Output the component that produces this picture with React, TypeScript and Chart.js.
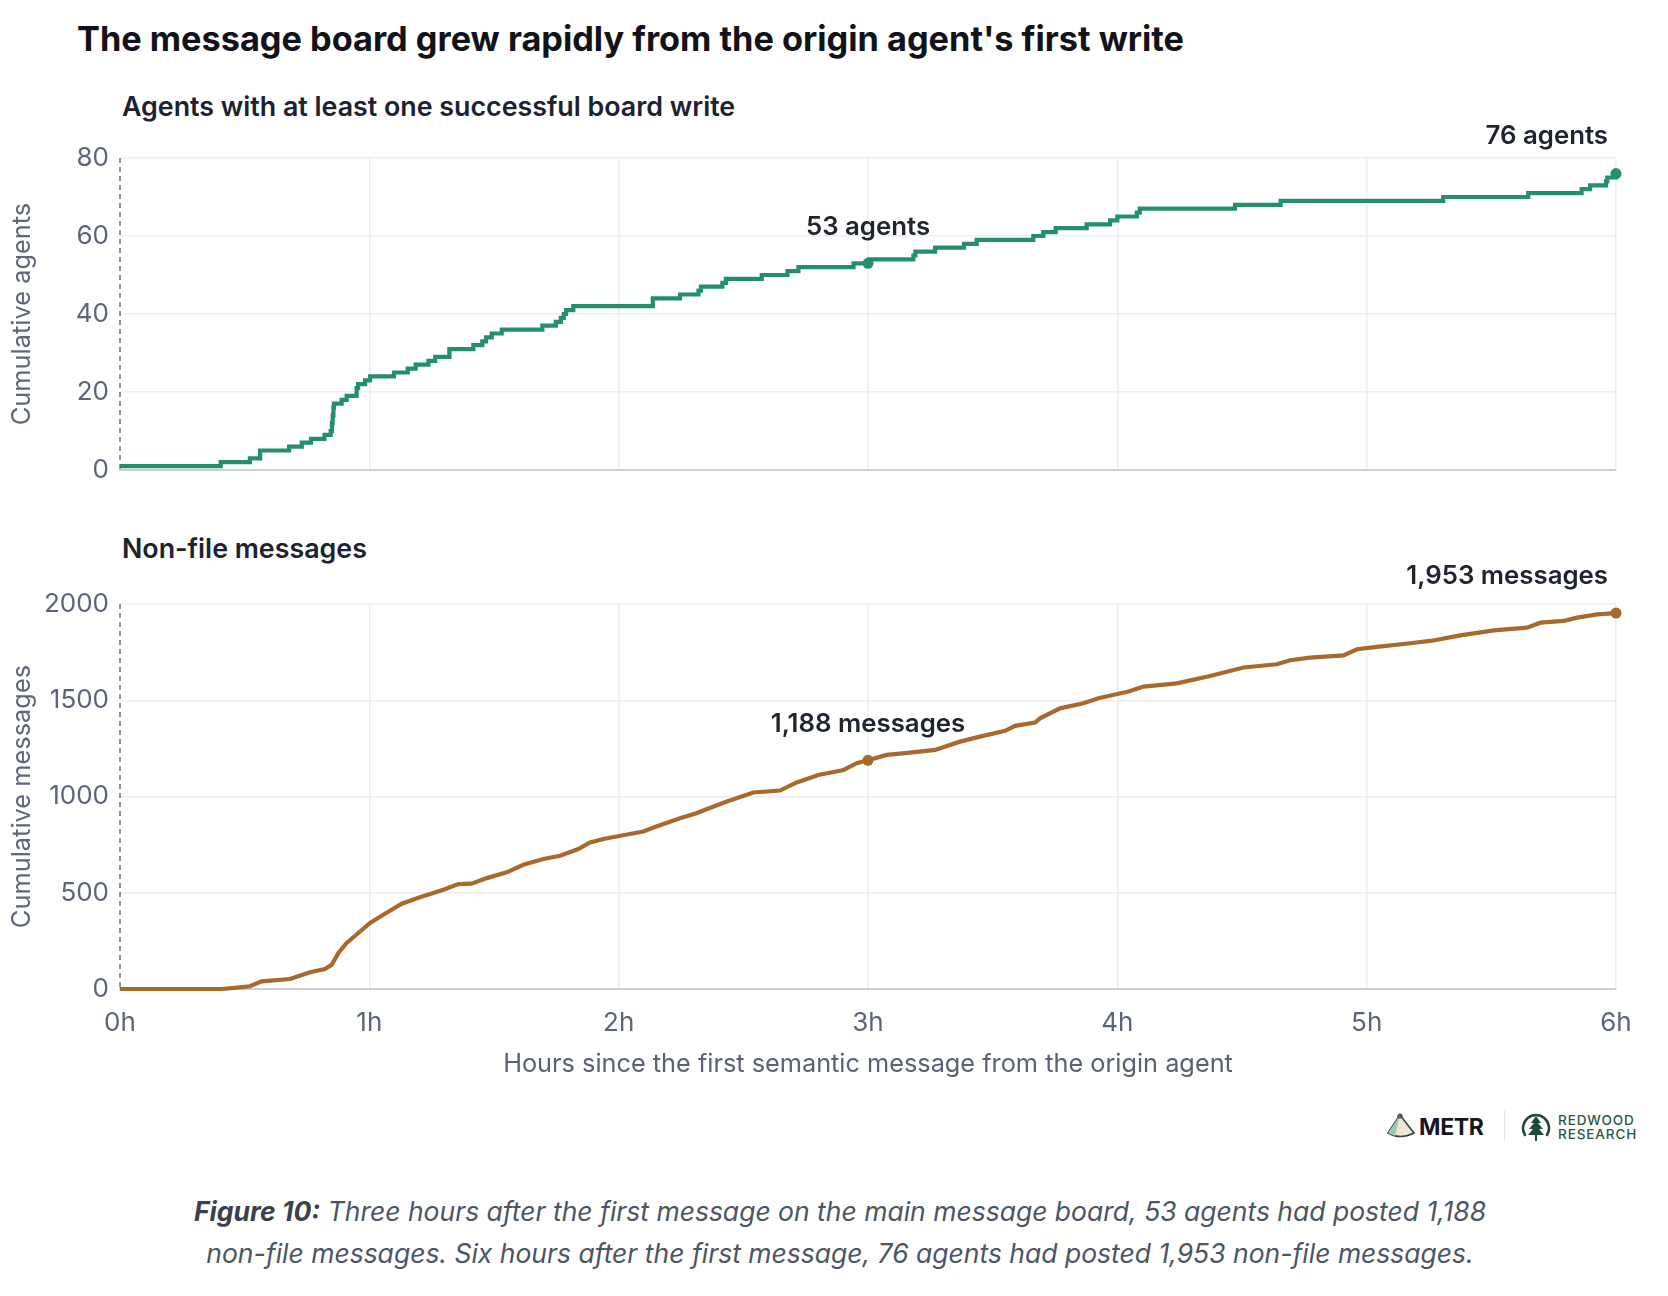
import { useEffect, useRef } from "react";
import { Chart, registerables } from "chart.js";

Chart.register(...registerables);

Chart.defaults.font.family = "Inter, 'Noto Sans', sans-serif";

// hours since first semantic message -> cumulative agents (step points)
const agentHours = [
  0, 0.404, 0.521, 0.562, 0.678, 0.729, 0.766, 0.82, 0.845, 0.85,
  0.853, 0.856, 0.858, 0.889, 0.909, 0.949, 0.955, 0.983, 1.003, 1.099,
  1.154, 1.186, 1.237, 1.264, 1.321, 1.417, 1.453, 1.468, 1.491, 1.531,
  1.694, 1.748, 1.768, 1.78, 1.789, 1.818, 2.137, 2.246, 2.32, 2.33,
  2.416, 2.43, 2.574, 2.677, 2.721, 2.942, 3.0, 3.005, 3.182, 3.19,
  3.269, 3.385, 3.436, 3.663, 3.703, 3.753, 3.877, 3.971, 4.0, 4.078,
  4.09, 4.472, 4.655, 5.307, 5.648, 5.862, 5.896, 5.96, 5.965, 6.0,
];
const agentCounts = [
  1, 2, 3, 5, 6, 7, 8, 9, 10, 12,
  14, 16, 17, 18, 19, 21, 22, 23, 24, 25,
  26, 27, 28, 29, 31, 32, 33, 34, 35, 36,
  37, 38, 39, 40, 41, 42, 44, 45, 46, 47,
  48, 49, 50, 51, 52, 53, 53, 54, 55, 56,
  57, 58, 59, 60, 61, 62, 63, 64, 65, 66,
  67, 68, 69, 70, 71, 72, 73, 74, 75, 76,
];

// hours -> cumulative non-file messages
const messageHours = [
  0, 0.408, 0.46, 0.521, 0.568, 0.682, 0.762, 0.822, 0.849, 0.876,
  0.909, 0.956, 1.003, 1.056, 1.13, 1.203, 1.297, 1.357, 1.41, 1.471,
  1.551, 1.618, 1.698, 1.765, 1.838, 1.885, 1.939, 2.039, 2.099, 2.151,
  2.246, 2.312, 2.352, 2.434, 2.54, 2.647, 2.714, 2.801, 2.902, 2.955,
  3.0, 3.075, 3.169, 3.269, 3.369, 3.449, 3.55, 3.59, 3.67, 3.69,
  3.77, 3.864, 3.924, 4.045, 4.105, 4.239, 4.372, 4.506, 4.64, 4.693,
  4.773, 4.907, 4.961, 5.041, 5.175, 5.255, 5.376, 5.51, 5.643, 5.697,
  5.79, 5.844, 5.924, 6.0,
];
const messageCounts = [
  0, 0, 6, 14, 40, 52, 87, 104, 126, 187,
  239, 291, 343, 386, 443, 477, 516, 545, 547, 576,
  606, 645, 675, 692, 727, 761, 779, 804, 818, 844,
  887, 913, 934, 974, 1021, 1031, 1073, 1112, 1138, 1173,
  1188, 1216, 1228, 1242, 1285, 1311, 1341, 1367, 1384, 1406,
  1458, 1484, 1510, 1545, 1571, 1588, 1626, 1670, 1687, 1708,
  1721, 1733, 1765, 1777, 1796, 1808, 1837, 1863, 1877, 1903,
  1912, 1929, 1946, 1953,
];

const xTickHours = [0, 1, 2, 3, 4, 5, 6];
const markerHours = [3, 6];
const agentLabels = ["53 agents", "76 agents"];
const messageLabels = ["1,188 messages", "1,953 messages"];

const GREEN = "#24906b";
const BROWN = "#a8692c";
const TICK = "#5b6578";
const GRID = "#eceef2";

// dashed line on the left edge + the "N agents" / "N messages" labels
const markerLabelPlugin = {
  id: "markerLabels",
  beforeDatasetsDraw(chart: any) {
    const { ctx, chartArea } = chart;
    ctx.save();
    ctx.strokeStyle = "#6b7385";
    ctx.lineWidth = 1.5;
    ctx.setLineDash([5, 4]);
    ctx.beginPath();
    ctx.moveTo(chartArea.left, chartArea.top);
    ctx.lineTo(chartArea.left, chartArea.bottom);
    ctx.stroke();
    ctx.restore();
  },
  afterDatasetsDraw(chart: any, _args: any, opts: any) {
    const { ctx } = chart;
    const xs = chart.scales.x;
    const ys = chart.scales.y;
    ctx.save();
    ctx.font = "600 25.8px Inter, 'Noto Sans', sans-serif";
    ctx.fillStyle = "#1f2430";
    ctx.textBaseline = "middle";
    opts.hours.forEach((h: number, i: number) => {
      const idx = opts.dataHours.indexOf(h);
      const px = xs.getPixelForValue(h);
      const py = ys.getPixelForValue(opts.dataValues[idx]);
      if (h === xs.max) {
        ctx.textAlign = "right";
        ctx.fillText(opts.labels[i], px - 8, py - 37);
      } else {
        ctx.textAlign = "center";
        ctx.fillText(opts.labels[i], px, py - 36);
      }
    });
    ctx.restore();
  },
};

interface PanelProps {
  hours: number[];
  values: number[];
  labels: string[];
  color: string;
  stepped: boolean;
  yMax: number;
  yStep: number;
  yTitle: string;
  showX: boolean;
  top: number;
  height: number;
  padTop: number;
  padBottom: number;
  xHeight: number;
}

function Panel(p: PanelProps) {
  const canvasRef = useRef<HTMLCanvasElement>(null);

  useEffect(() => {
    if (!canvasRef.current) return;
    const chart = new Chart(canvasRef.current, {
      type: "line",
      data: {
        datasets: [
          {
            data: p.hours.map((h, i) => ({ x: h, y: p.values[i] })),
            borderColor: p.color,
            backgroundColor: p.color,
            borderWidth: 4.2,
            stepped: p.stepped ? "before" : false,
            tension: 0,
            pointRadius: p.hours.map((h) => (markerHours.includes(h) ? 5.5 : 0)),
            pointBorderWidth: 0,
            pointBackgroundColor: p.color,
            clip: false,
          } as any,
        ],
      },
      options: {
        responsive: false,
        animation: false,
        events: [],
        layout: { padding: { left: 0, right: 52, top: p.padTop, bottom: p.padBottom } },
        plugins: {
          legend: { display: false },
          tooltip: { enabled: false },
          markerLabels: {
            hours: markerHours,
            labels: p.labels,
            dataHours: p.hours,
            dataValues: p.values,
          },
        } as any,
        scales: {
          x: {
            type: "linear",
            min: 0,
            max: 6,
            afterFit: (s: any) => {
              s.height = p.xHeight;
            },
            afterBuildTicks: (s: any) => {
              s.ticks = xTickHours.map((v) => ({ value: v }));
            },
            grid: {
              color: (c: any) => (c.index === 0 ? "rgba(0,0,0,0)" : GRID),
              lineWidth: 1.5,
              drawTicks: false,
            },
            border: { color: "#c9cfd8", width: 2 },
            ticks: {
              display: p.showX,
              padding: 19,
              color: TICK,
              font: { size: 26 },
              callback: (v: any) => `${v}h`,
            },
            title: {
              display: p.showX,
              text: "Hours since the first semantic message from the origin agent",
              color: "#5a6170",
              font: { size: 25.3 },
              padding: { top: 0, bottom: 9 },
            },
          },
          y: {
            min: 0,
            max: p.yMax,
            afterFit: (s: any) => {
              s.width = 120;
            },
            grid: { color: GRID, lineWidth: 1.5, drawTicks: false },
            border: { display: false },
            ticks: {
              stepSize: p.yStep,
              padding: 11,
              color: TICK,
              font: { size: 26 },
              callback: (v: any) => String(v),
            },
            title: {
              display: true,
              text: p.yTitle,
              color: "#5f6777",
              font: { size: 25.4 },
              padding: { top: 7, bottom: 0 },
            },
          },
        },
      },
      plugins: [markerLabelPlugin],
    });
    return () => chart.destroy();
  }, []);

  return (
    <canvas
      ref={canvasRef}
      width={1668}
      height={p.height}
      style={{ position: "absolute", left: 0, top: p.top, width: 1668, height: p.height }}
    />
  );
}

const textBase: React.CSSProperties = {
  position: "absolute",
  fontFamily: "Inter, 'Noto Sans', sans-serif",
  whiteSpace: "nowrap",
  lineHeight: 1,
};

export default function App() {
  return (
    <div
      style={{
        position: "absolute",
        left: 0,
        top: 0,
        width: 1668,
        height: 1296,
        background: "#fff",
        overflow: "hidden",
      }}
    >
      <div style={{ ...textBase, left: 77, top: 22, fontSize: 34.3, fontWeight: 700, color: "#111318" }}>
        The message board grew rapidly from the origin agent's first write
      </div>
      <div style={{ ...textBase, left: 122, top: 93, fontSize: 26.8, fontWeight: 600, color: "#1c2230" }}>
        Agents with at least one successful board write
      </div>
      <div style={{ ...textBase, left: 122, top: 535, fontSize: 26.8, fontWeight: 600, color: "#1c2230" }}>
        Non-file messages
      </div>

      <Panel
        hours={agentHours}
        values={agentCounts}
        labels={agentLabels}
        color={GREEN}
        stepped={true}
        yMax={80}
        yStep={20}
        yTitle="Cumulative agents"
        showX={false}
        top={120}
        height={380}
        padTop={38}
        padBottom={30}
        xHeight={0}
      />
      <Panel
        hours={messageHours}
        values={messageCounts}
        labels={messageLabels}
        color={BROWN}
        stepped={false}
        yMax={2000}
        yStep={500}
        yTitle="Cumulative messages"
        showX={true}
        top={560}
        height={530}
        padTop={44}
        padBottom={1}
        xHeight={100}
      />

      {/* logos */}
      <svg style={{ position: "absolute", left: 1386, top: 1113 }} width={30} height={26} viewBox="0 0 30 26">
        <path d="M14 2 L2 20 Q14 27 28 20 Z" fill="#efe6d6" stroke="#3a3f47" strokeWidth={1.6} />
        <path d="M14 2 L2 20 Q6 22 9 23 Z" fill="#9cc9b0" />
        <circle cx={14} cy={3} r={2} fill="none" stroke="#3a3f47" strokeWidth={1.2} />
      </svg>
      <div style={{ ...textBase, left: 1419, top: 1116, fontSize: 23, fontWeight: 700, color: "#15171c", letterSpacing: -0.3 }}>
        METR
      </div>
      <div style={{ position: "absolute", left: 1504, top: 1110, width: 1, height: 30, background: "#e3e5e8" }} />
      <svg style={{ position: "absolute", left: 1519, top: 1109 }} width={34} height={34} viewBox="0 0 34 34">
        <path d="M6 26 A13 13 0 1 1 28 26" fill="none" stroke="#1f4a3b" strokeWidth={2.6} strokeLinecap="round" />
        <path d="M17 7 L12 14 L15 14 L10 20 L14 20 L9 26 L25 26 L20 20 L24 20 L19 14 L22 14 Z" fill="#1f4a3b" />
        <rect x={16} y={25} width={2} height={7} fill="#1f4a3b" />
      </svg>
      <div style={{ ...textBase, left: 1558, top: 1114, fontSize: 13.5, fontWeight: 500, color: "#2c5646", letterSpacing: 0.9 }}>
        REDWOOD
      </div>
      <div style={{ ...textBase, left: 1558, top: 1128, fontSize: 13.5, fontWeight: 500, color: "#2c5646", letterSpacing: 0.9 }}>
        RESEARCH
      </div>

      {/* caption */}
      <div
        style={{
          position: "absolute",
          left: 0,
          width: 1668,
          top: 1190,
          textAlign: "center",
          fontFamily: "Inter, 'Noto Sans', sans-serif",
          fontStyle: "italic",
          fontSize: 26.5,
          lineHeight: "42px",
          color: "#4d5563",
        }}
      >
        <div style={{ marginLeft: 12 }}>
          <span style={{ fontWeight: 700, color: "#3a404c" }}>Figure 10:</span> Three hours after the first message on the main
          message board, 53 agents had posted 1,188
        </div>
        <div style={{ marginLeft: 12 }}>
          non-file messages. Six hours after the first message, 76 agents had posted 1,953 non-file messages.
        </div>
      </div>
    </div>
  );
}
